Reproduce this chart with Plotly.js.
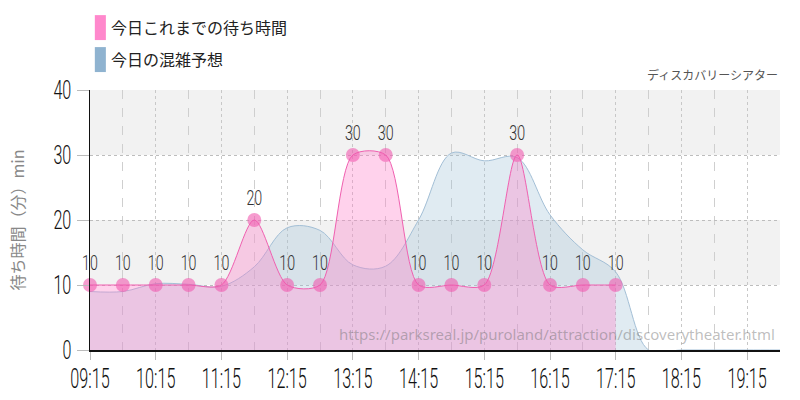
<!DOCTYPE html>
<html>
<head>
<meta charset="utf-8">
<script src="https://cdn.plot.ly/plotly-3.0.1.min.js"></script>
<style>
  html, body { margin: 0; padding: 0; background: #fff; }
  #chart { width: 800px; height: 400px; }
</style>
</head>
<body>
<div id="chart"></div>
<script>
var day = '2024-01-01 '

// 今日これまでの待ち時間 (actual, every 30 min)
var actualTimes = ['09:15', '09:45', '10:15', '10:45', '11:15', '11:45', '12:15', '12:45',
    '13:15', '13:45', '14:15', '14:45', '15:15', '15:45', '16:15', '16:45', '17:15']
var actualWait = [10, 10, 10, 10, 10, 20, 10, 10, 30, 30, 10, 10, 10, 30, 10, 10, 10]

// 今日の混雑予想 (forecast)
var forecastTimes = ['09:15', '09:45', '10:15', '10:45', '11:15', '11:45', '12:15', '12:45',
    '13:15', '13:45', '14:15', '14:45', '15:15', '15:45', '16:15', '16:45', '17:15',
    '17:45', '18:15', '18:45', '19:15', '19:45']
var forecastWait = [9, 9, 10.2, 10.1, 9.8, 12.8, 18.8, 18.4, 13.1, 12.9, 20, 30.3, 29.1, 29.6,
    20.8, 15.4, 12, 0, 0, 0, 0, 0]

var legendNames = ['今日これまでの待ち時間', '今日の混雑予想']
var legendColors = ['#ff88cc', '#8fb3d0']
var attractionName = 'ディスカバリーシアター'
var sourceUrl = 'https://parksreal.jp/puroland/attraction/discoverytheater.html'
var yTitle = '待ち時間（分）min'

var numFont = 'Roboto, "DejaVu Sans", sans-serif'
var jpFont = '"Noto Sans CJK JP", "Noto Sans", sans-serif'

function toDate(list) {
    return list.map(function (t) { return day + t })
}

var forecast = {
    x: toDate(forecastTimes),
    y: forecastWait,
    name: legendNames[1],
    type: 'scatter',
    mode: 'lines',
    line: { color: '#a3bfd6', width: 1, shape: 'spline', smoothing: 1 },
    fill: 'tozeroy',
    fillcolor: 'rgba(160,192,216,0.32)',
    hoverinfo: 'x+y'
}

var actual = {
    x: toDate(actualTimes),
    y: actualWait,
    name: legendNames[0],
    type: 'scatter',
    mode: 'lines+markers+text',
    text: actualWait.map(String),
    textposition: 'top center',
    textfont: { family: numFont, size: 21, weight: 300, color: '#333' },
    line: { color: '#f060b0', width: 1, shape: 'spline', smoothing: 0.8 },
    marker: { size: 14, color: 'rgba(240,90,175,0.6)' },
    fill: 'tozeroy',
    fillcolor: 'rgba(255,125,200,0.35)',
    cliponaxis: false,
    hoverinfo: 'x+y'
}

// alternating grey bands 10-20 and 30-40
var bands = [[10, 20], [30, 40]].map(function (b) {
    return {
        type: 'rect', xref: 'paper', yref: 'y', x0: 0, x1: 1, y0: b[0], y1: b[1],
        fillcolor: '#f2f2f2', line: { width: 0 }, layer: 'below'
    }
})

// legend swatches drawn by hand (tall blocks)
var swatches = legendColors.map(function (c, i) {
    return {
        type: 'rect', xref: 'paper', yref: 'paper',
        x0: 0.007, x1: 0.023, y0: 1.192 - i * 0.123, y1: 1.288 - i * 0.123,
        fillcolor: c, line: { width: 0 }
    }
})

var annotations = legendNames.map(function (n, i) {
    return {
        text: n, xref: 'paper', yref: 'paper', x: 0.028, y: 1.242 - i * 0.123,
        xanchor: 'left', yanchor: 'middle', showarrow: false,
        font: { family: jpFont, size: 16, color: '#222' }
    }
})
annotations.push({
    text: attractionName, xref: 'paper', yref: 'paper', x: 1, y: 1.02,
    xanchor: 'right', yanchor: 'bottom', showarrow: false,
    font: { family: jpFont, size: 12, color: '#555' }
})
annotations.push({
    text: sourceUrl, xref: 'paper', yref: 'paper', x: 0.995, y: 0.015,
    xanchor: 'right', yanchor: 'bottom', showarrow: false,
    font: { family: '"Noto Sans", "Open Sans", sans-serif', size: 15, color: 'rgba(110,110,110,0.45)' }
})

var layout = {
    width: 800,
    height: 400,
    margin: { l: 90, r: 20, t: 90, b: 50 },
    paper_bgcolor: '#fff',
    plot_bgcolor: '#fff',
    showlegend: false,
    font: { family: jpFont, color: '#222' },
    xaxis: {
        type: 'date',
        range: [day + '09:15', day + '19:45'],
        tick0: day + '09:15',
        dtick: 3600000,
        tickformat: '%H:%M',
        tickangle: 0,
        tickfont: { family: numFont, size: 27, weight: 300, color: '#111' },
        ticklabelstandoff: -4,
        ticks: 'outside', ticklen: 8, tickcolor: '#bbb',
        showgrid: true, gridcolor: '#c8c8c8', griddash: 'dot', gridwidth: 1,
        minor: { dtick: 1800000, tick0: day + '09:15', showgrid: true, gridcolor: '#cfcfcf', griddash: 'dash', gridwidth: 1 },
        showline: true, linecolor: '#111', linewidth: 1.5,
        zeroline: false,
        fixedrange: true
    },
    yaxis: {
        range: [0, 40],
        dtick: 10,
        tickfont: { family: numFont, size: 26, weight: 300, color: '#111' },
        ticks: 'outside', ticklen: 12, tickcolor: '#bbb',
        showgrid: true, gridcolor: '#bdbdbd', griddash: 'dot', gridwidth: 1,
        showline: true, linecolor: '#111', linewidth: 1.5,
        zeroline: false,
        title: { text: yTitle, font: { family: jpFont, size: 16, color: '#888' }, standoff: 14 },
        fixedrange: true
    },
    shapes: bands.concat(swatches),
    annotations: annotations
}

// squeeze the number labels into a condensed look
function condense(selector, ratio) {
    document.querySelectorAll(selector).forEach(function (el) {
        var len = el.getComputedTextLength()
        el.setAttribute('textLength', (len * ratio).toFixed(1))
        el.setAttribute('lengthAdjust', 'spacingAndGlyphs')
    })
}

Plotly.newPlot('chart', [forecast, actual], layout, { displayModeBar: false, staticPlot: true })
    .then(function () {
        condense('#chart .xtick text', 0.6)
        condense('#chart .ytick text', 0.62)
        condense('#chart .textpoint text', 0.68)
    })
</script>
</body>
</html>
